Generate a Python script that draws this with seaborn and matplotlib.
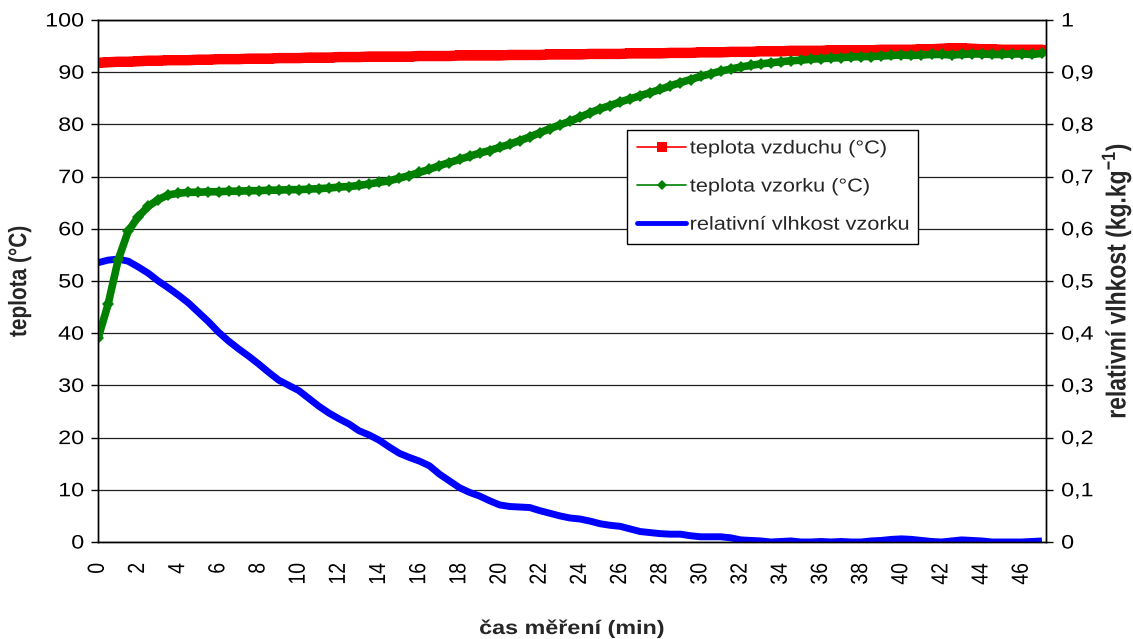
import numpy as np
import pandas as pd
import matplotlib
matplotlib.use("Agg")
import matplotlib.pyplot as plt
from matplotlib.lines import Line2D
from matplotlib.patheffects import AbstractPathEffect
from matplotlib.transforms import Affine2D
import seaborn as sns

# time of measurement, minutes (0.5 min step)
cas = [i * 0.5 for i in range(95)]

# air temperature (°C)
teplota_vzduchu = [
    91.8, 91.9, 92.0, 92.0, 92.1, 92.2, 92.2, 92.3, 92.3, 92.3, 92.4,
    92.4, 92.5, 92.5, 92.5, 92.6, 92.6, 92.6, 92.7, 92.7, 92.7,
    92.8, 92.8, 92.8, 92.9, 92.9, 92.9, 93.0, 93.0, 93.0, 93.0,
    93.0, 93.1, 93.1, 93.1, 93.1, 93.2, 93.2, 93.2, 93.2, 93.2,
    93.3, 93.3, 93.3, 93.3, 93.4, 93.4, 93.4, 93.4, 93.5, 93.5,
    93.5, 93.5, 93.6, 93.6, 93.6, 93.6, 93.7, 93.7, 93.7, 93.8,
    93.8, 93.8, 93.9, 93.9, 93.9, 94.0, 94.0, 94.0, 94.1, 94.1,
    94.1, 94.1, 94.2, 94.2, 94.2, 94.2, 94.2, 94.3, 94.3, 94.3,
    94.3, 94.4, 94.4, 94.5, 94.6, 94.6, 94.5, 94.4, 94.4, 94.3,
    94.3, 94.3, 94.3, 94.3,
]

# sample temperature (°C)
teplota_vzorku = [
    39.0, 45.5, 54.0, 59.5, 62.3, 64.3, 65.6, 66.5, 66.8, 67.0, 67.0,
    67.1, 67.1, 67.2, 67.2, 67.3, 67.3, 67.4, 67.4, 67.5, 67.5,
    67.6, 67.7, 67.8, 68.0, 68.1, 68.3, 68.6, 68.9, 69.2, 69.7,
    70.2, 70.8, 71.4, 72.1, 72.7, 73.3, 73.9, 74.5, 75.0, 75.6,
    76.2, 76.9, 77.6, 78.4, 79.2, 79.9, 80.6, 81.4, 82.2, 83.0,
    83.6, 84.3, 84.9, 85.5, 86.1, 86.7, 87.4, 88.0, 88.6, 89.2,
    89.7, 90.2, 90.6, 91.0, 91.3, 91.6, 91.8, 92.0, 92.2, 92.3,
    92.5, 92.6, 92.7, 92.8, 92.9, 93.0, 93.0, 93.1, 93.2, 93.3,
    93.2, 93.3, 93.4, 93.4, 93.3, 93.4, 93.5, 93.5, 93.4, 93.4,
    93.5, 93.5, 93.4, 93.6,
]

# relative moisture content of the sample (kg/kg)
vlhkost = [
    0.535, 0.540, 0.542, 0.538, 0.527, 0.515, 0.500, 0.487, 0.473, 0.458, 0.440,
    0.422, 0.402, 0.385, 0.370, 0.356, 0.341, 0.325, 0.310, 0.300, 0.290,
    0.275, 0.260, 0.247, 0.236, 0.226, 0.213, 0.205, 0.195, 0.182, 0.170,
    0.162, 0.155, 0.146, 0.130, 0.117, 0.104, 0.095, 0.088, 0.079, 0.071,
    0.068, 0.067, 0.066, 0.060, 0.055, 0.050, 0.046, 0.044, 0.040, 0.035,
    0.032, 0.030, 0.025, 0.020, 0.018, 0.016, 0.015, 0.015, 0.012, 0.010,
    0.010, 0.010, 0.008, 0.004, 0.003, 0.002, 0.000, 0.001, 0.002, 0.000,
    0.000, 0.001, 0.000, 0.001, 0.000, 0.000, 0.002, 0.003, 0.005, 0.006,
    0.005, 0.003, 0.001, 0.000, 0.002, 0.004, 0.003, 0.002, 0.000, 0.000,
    0.000, 0.000, 0.001, 0.002,
]

x_ticks = list(range(0, 47, 2))
left_ticks = list(range(0, 101, 10))
right_ticks = [i / 10 for i in range(11)]
right_tick_labels = ["0", "0,1", "0,2", "0,3", "0,4", "0,5", "0,6", "0,7", "0,8", "0,9", "1"]

df = pd.DataFrame({
    "cas": cas,
    "vzduch": teplota_vzduchu,
    "vzorek": teplota_vzorku,
    "vlhkost": vlhkost,
})


class WideText(AbstractPathEffect):
    """Render text horizontally widened around a chosen anchor."""

    def __init__(self, sx=1.2, anchor="center"):
        super().__init__()
        self.sx = sx
        self.anchor = anchor

    def draw_path(self, renderer, gc, tpath, affine, rgbFace=None):
        ext = tpath.get_extents(affine)
        if self.anchor == "left":
            x0 = ext.x0
        elif self.anchor == "right":
            x0 = ext.x1
        else:
            x0 = 0.5 * (ext.x0 + ext.x1)
        t = affine + Affine2D().translate(-x0, 0).scale(self.sx, 1).translate(x0, 0)
        renderer.draw_path(gc, tpath, t, rgbFace)


SX = 1.2
FS = 14

sns.set_theme(style="white")
plt.rcParams["font.family"] = ["Liberation Sans", "DejaVu Sans"]
plt.rcParams["mathtext.fontset"] = "custom"
plt.rcParams["mathtext.rm"] = "Liberation Sans"
plt.rcParams["mathtext.bf"] = "Liberation Sans:bold"

fig = plt.figure(figsize=(11.33, 6.39), dpi=100)
ax = fig.add_axes([98 / 1133, 1 - 542 / 639, 948 / 1133, 522 / 639])
ax2 = ax.twinx()

# temperatures drawn above the moisture curve
ax.set_zorder(2)
ax2.set_zorder(1)
ax.patch.set_visible(False)

sns.lineplot(data=df, x="cas", y="vlhkost", ax=ax2, color="#0000ff", lw=5,
             solid_capstyle="butt")
sns.lineplot(data=df, x="cas", y="vzduch", ax=ax, color="#ff0000", lw=7.5,
             marker="s", markersize=7, markeredgecolor="#ff0000", markeredgewidth=0)
sns.lineplot(data=df, x="cas", y="vzorek", ax=ax, color="#008000", lw=5.5,
             marker="D", markersize=6, markeredgecolor="#008000", markeredgewidth=0)

ax.set_xlim(0, 47.2)
ax.set_ylim(0, 100)
ax2.set_ylim(0, 1)

ax.set_xticks(x_ticks)
xl = ax.set_xticklabels([str(t) for t in x_ticks], rotation=90, fontsize=FS)
ax.set_yticks(left_ticks)
yl = ax.set_yticklabels([str(t) for t in left_ticks], fontsize=FS)
ax2.set_yticks(right_ticks)
yr = ax2.set_yticklabels(right_tick_labels, fontsize=FS)
for t in xl:
    t.set_path_effects([WideText(SX, "center")])
for t in yl:
    t.set_path_effects([WideText(SX, "right")])
for t in yr:
    t.set_path_effects([WideText(SX, "left")])

ax.tick_params(axis="x", length=0, pad=15, colors="black")
ax.tick_params(axis="y", length=5, width=1, direction="out", pad=5, colors="black", left=True)
ax2.tick_params(axis="y", length=5, width=1, direction="out", pad=6, colors="black", right=True)

ax2.grid(axis="y", color="#222222", lw=0.9)
ax.grid(False)
ax2.set_axisbelow(True)

for a in (ax, ax2):
    for s in a.spines.values():
        s.set_color("black")
        s.set_linewidth(1.0)

ax.set_xlabel("čas měření (min)", fontsize=FS, fontweight="bold")
ax.set_ylabel("teplota (°C)", fontsize=15, fontweight="bold")
ax2.set_ylabel(r"relativní vlhkost (kg.kg$^{\mathbf{-1}}$)", fontsize=16.5,
               fontweight="bold")
ax.xaxis.set_label_coords(0.5, (542 - 621) / 522)
ax.yaxis.set_label_coords((29 - 98) / 948, 0.5)
ax2.yaxis.set_label_coords((1101 - 98) / 948, 0.5)
for lab in (ax.xaxis.label, ax.yaxis.label, ax2.yaxis.label):
    lab.set_path_effects([WideText(SX, "center")])

handles = [
    Line2D([], [], color="#ff0000", lw=1.2, marker="s", markersize=7, markeredgewidth=0),
    Line2D([], [], color="#008000", lw=1.2, marker="D", markersize=5, markeredgewidth=0),
    Line2D([], [], color="#0000ff", lw=3.5),
]
labels = ["teplota vzduchu (°C)", "teplota vzorku (°C)", "relativní vlhkost vzorku"]
LFS = 13.5
leg = ax.legend(handles, labels, loc="upper left",
                bbox_to_anchor=((627 - 98) / 948, (542 - 245) / 522, 291 / 948, 115 / 522),
                mode="expand", fontsize=LFS, frameon=True, fancybox=False,
                edgecolor="black", framealpha=1, handlelength=2.6, handletextpad=0.2,
                labelspacing=1.12, borderpad=0.55, borderaxespad=0)
leg.get_frame().set_linewidth(1.0)
for t in leg.get_texts():
    t.set_path_effects([WideText(1.16, "left")])

fig.savefig("out.png", dpi=100)
